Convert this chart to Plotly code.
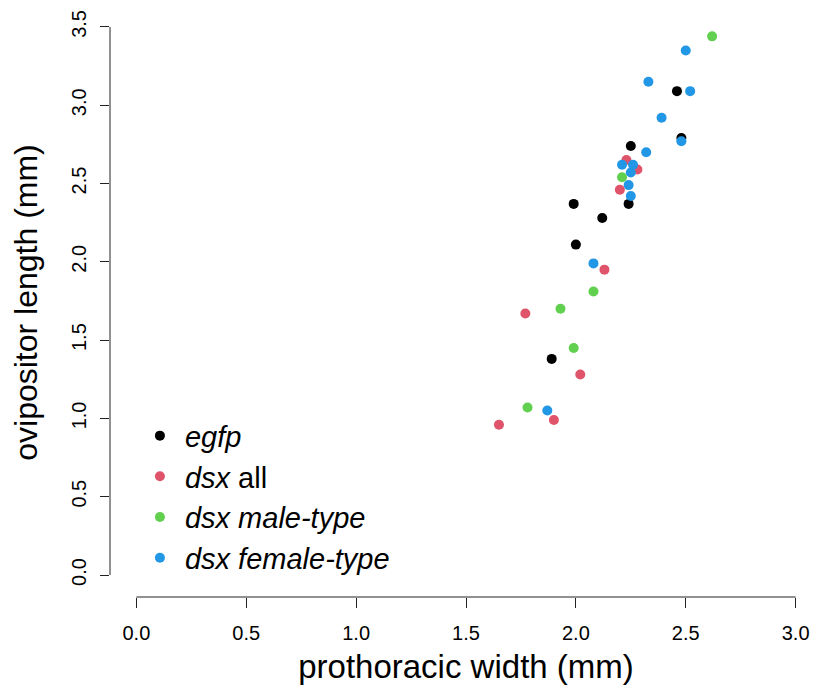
import plotly.graph_objects as go

# 各组数据：前胸宽度 (mm) 与产卵器长度 (mm)
egfp_x = [2.46, 2.48, 2.25, 1.99, 2.24, 2.12, 2.00, 1.89]
egfp_y = [3.09, 2.79, 2.74, 2.37, 2.37, 2.28, 2.11, 1.38]

dsx_all_x = [2.23, 2.28, 2.20, 2.13, 1.77, 2.02, 1.90, 1.65]
dsx_all_y = [2.65, 2.59, 2.46, 1.95, 1.67, 1.28, 0.99, 0.96]

dsx_male_x = [2.62, 2.21, 2.08, 1.93, 1.99, 1.78]
dsx_male_y = [3.44, 2.54, 1.81, 1.70, 1.45, 1.07]

dsx_female_x = [2.50, 2.33, 2.52, 2.39, 2.48, 2.32, 2.21, 2.26, 2.25, 2.24, 2.25, 2.08, 1.87]
dsx_female_y = [3.35, 3.15, 3.09, 2.92, 2.77, 2.70, 2.62, 2.62, 2.57, 2.49, 2.42, 1.99, 1.05]

group_names = ['<i>egfp</i>', '<i>dsx</i> all', '<i>dsx male-type</i>', '<i>dsx female-type</i>']
group_colors = ['#000000', '#DF536B', '#61D04F', '#2297E6']

tick_x = [0, 0.5, 1.0, 1.5, 2.0, 2.5, 3.0]
tick_y = [0, 0.5, 1.0, 1.5, 2.0, 2.5, 3.0, 3.5]

groups = [
    (egfp_x, egfp_y),
    (dsx_all_x, dsx_all_y),
    (dsx_male_x, dsx_male_y),
    (dsx_female_x, dsx_female_y),
]

fig = go.Figure()
for (xs, ys), name, color in zip(groups, group_names, group_colors):
    fig.add_trace(go.Scatter(
        x=xs, y=ys, mode='markers', name=name,
        marker=dict(color=color, size=10, symbol='circle'),
    ))

font = 'Liberation Sans, Arial, sans-serif'

# R 风格的坐标轴线：只画到首末刻度
fig.add_shape(type='line', xref='x', yref='paper', x0=tick_x[0], x1=tick_x[-1], y0=0, y1=0,
              line=dict(color='#222222', width=1))
fig.add_shape(type='line', xref='paper', yref='y', x0=0, x1=0, y0=tick_y[0], y1=tick_y[-1],
              line=dict(color='#222222', width=1))

# 页面 body 自带 8px 边距，图的尺寸和边距按此扣除
fig.update_layout(
    width=814, height=678,
    margin=dict(l=102, r=0, t=0, b=89, autoexpand=False),
    plot_bgcolor='white', paper_bgcolor='white',
    font=dict(family=font, color='black'),
    showlegend=True,
    legend=dict(
        x=0.035, y=0.317, xanchor='left', yanchor='top',
        font=dict(size=29, family=font),
        bgcolor='rgba(0,0,0,0)', tracegroupgap=0, itemwidth=40,
    ),
    xaxis=dict(
        range=[-0.12, 3.12], showgrid=False, zeroline=False, showline=False,
        automargin=False,
        tickvals=tick_x, ticktext=['%.1f' % v for v in tick_x],
        ticks='outside', ticklen=10, tickcolor='#222222',
        tickfont=dict(size=20), ticklabelstandoff=8,
        title=dict(text='prothoracic width (mm)', font=dict(size=33), standoff=11),
    ),
    yaxis=dict(
        range=[-0.1405, 3.621], showgrid=False, zeroline=False, showline=False,
        automargin=False,
        tickvals=tick_y, ticktext=['%.1f' % v for v in tick_y],
        ticks='outside', ticklen=9, tickcolor='#222222', tickangle=-90,
        tickfont=dict(size=20), ticklabelstandoff=6,
        title=dict(text='ovipositor length (mm)', font=dict(size=32), standoff=24),
    ),
)

fig.write_html('out.html')
